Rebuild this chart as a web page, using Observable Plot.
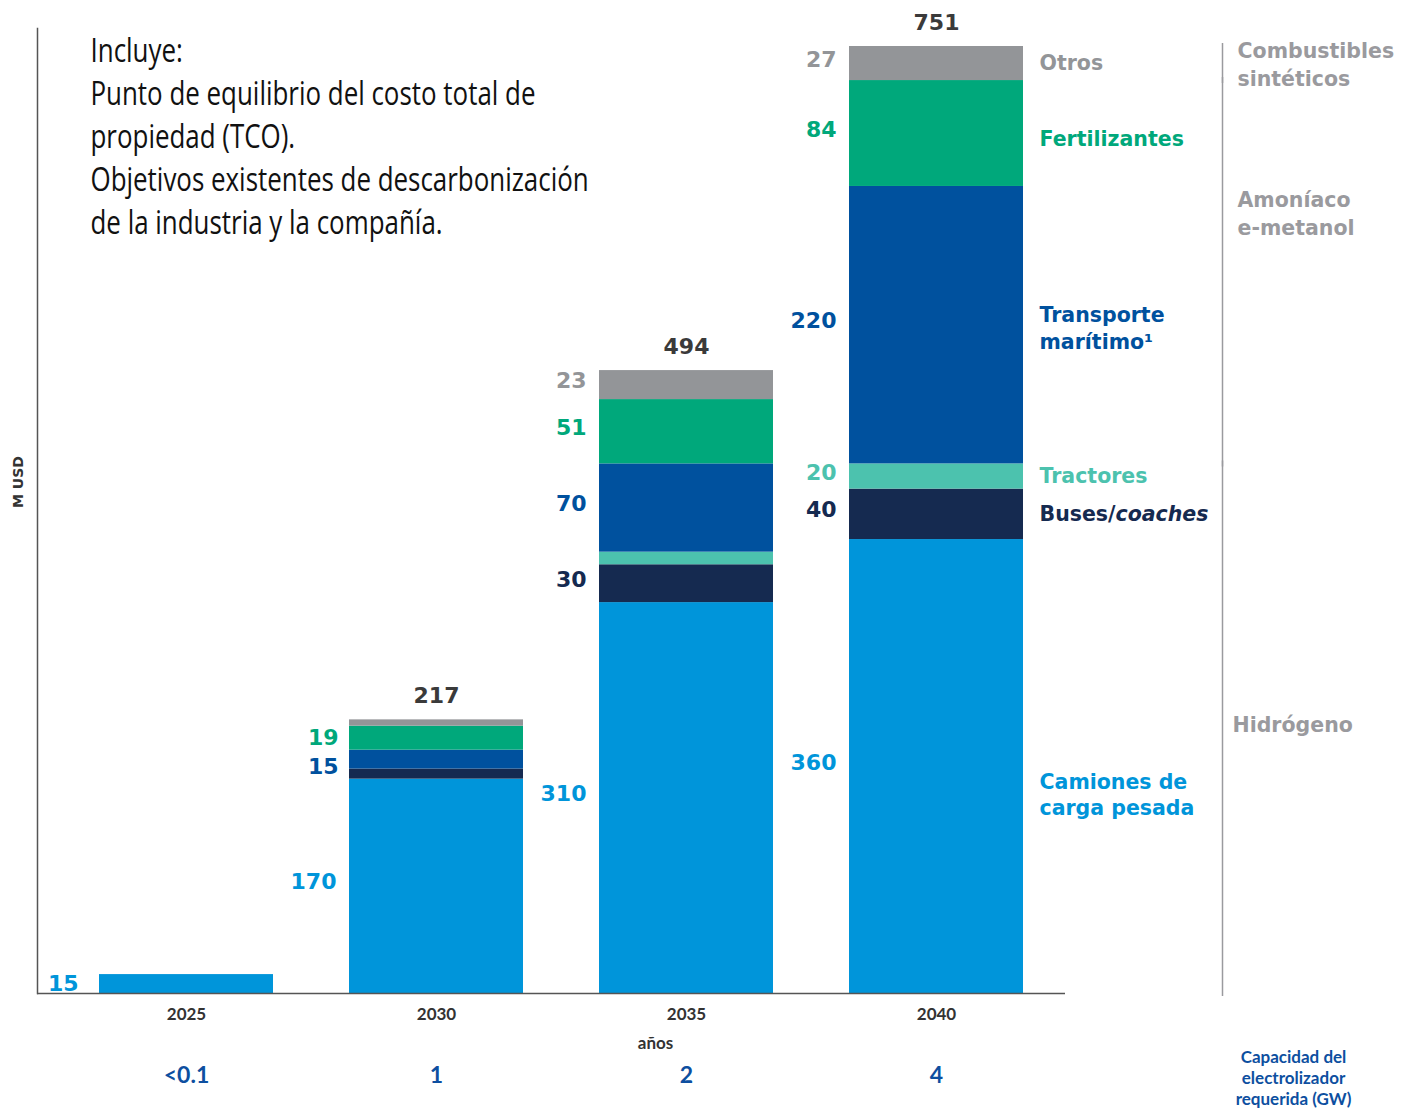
<!DOCTYPE html>
<html>
<head>
<meta charset="utf-8">
<script src="https://cdn.jsdelivr.net/npm/d3@7"></script>
<script src="https://cdn.jsdelivr.net/npm/@observablehq/plot@0.6"></script>
<style>
  html, body { margin: 0; padding: 0; background: #fff; }
  #chart svg { display: block; }
</style>
</head>
<body>
<div id="chart"></div>
<script>
// ---- data ----
const years = ["2025", "2030", "2035", "2040"];
const seriesNames = ["Camiones de carga pesada", "Buses/coaches", "Tractores", "Transporte marítimo¹", "Fertilizantes", "Otros"];
const camiones = [15, 170, 310, 360];
const buses = [0, 8, 30, 40];
const tractores = [0, 0, 10, 20];
const maritimo = [0, 15, 70, 220];
const fertilizantes = [0, 19, 51, 84];
const otros = [0, 5, 23, 27];
const totals = [15, 217, 494, 751];
const gwCapacity = ["<0.1", "1", "2", "4"];
// which segment values are labelled in the reference
const labelled = {
  "Camiones de carga pesada": [true, true, true, true],
  "Buses/coaches": [false, false, true, true],
  "Tractores": [false, false, false, true],
  "Transporte marítimo¹": [false, true, true, true],
  "Fertilizantes": [false, true, true, true],
  "Otros": [false, false, true, true]
};
const groups = ["Hidrógeno", "Amoníaco\ne-metanol", "Combustibles\nsintéticos"];
const seriesColors = ["#0095DA", "#152A50", "#4CC2AE", "#00519E", "#00A87B", "#939598"];

const seriesValues = [camiones, buses, tractores, maritimo, fertilizantes, otros];

// stacked rows
const rows = [];
years.forEach((year, i) => {
  let acc = 0;
  seriesNames.forEach((s, j) => {
    const v = seriesValues[j][i];
    rows.push({year, series: s, value: v, y1: acc, y2: acc + v, mid: acc + v / 2, show: labelled[s][i] && v > 0});
    acc += v;
  });
});
const totalRows = years.map((year, i) => ({year, total: totals[i]})).filter(d => d.year !== "2025");

// group brackets from the 2040 stack
const r40 = rows.filter(d => d.year === "2040");
const h2Top = r40[2].y2, ferTop = r40[4].y2, allTop = r40[5].y2;
const brackets = [
  {name: groups[0], y1: 0, y2: h2Top},
  {name: groups[1], y1: h2Top, y2: ferTop},
  {name: groups[2], y1: ferTop, y2: allTop}
];

const BOLD = "'DejaVu Sans', 'Open Sans', sans-serif";
const NOTE = "'Open Sans', 'Noto Sans', sans-serif";
const MYRIAD = "Lato, 'Noto Sans', sans-serif";

// label offsets (style only)
const valueTweak = {
  "2025|Camiones de carga pesada": {dx: -108, dy: 0},
  "2030|Fertilizantes": {dx: -98, dy: 0},
  "2030|Transporte marítimo¹": {dx: -98, dy: 7}
};
const key = d => d.year + "|" + d.series;
const valueStyle = {textAnchor: "end", fontSize: 22, fontWeight: 700, fontFamily: BOLD};
const valueMarks = [
  Plot.text(rows.filter(d => d.show && !valueTweak[key(d)]), {
    x: "year", y: "mid", text: d => String(d.value), fill: "series", dx: -100, dy: -4, ...valueStyle
  }),
  ...Object.keys(valueTweak).map(k => Plot.text(rows.filter(d => d.show && key(d) === k), {
    x: "year", y: "mid", text: d => String(d.value), fill: "series", dx: valueTweak[k].dx, dy: valueTweak[k].dy, ...valueStyle
  }))
];

const rightLabelDy = {"Otros": -2, "Fertilizantes": 4, "Transporte marítimo¹": 2, "Tractores": -2, "Buses/coaches": -2, "Camiones de carga pesada": 27};
const rightLabelText = {"Otros": "Otros", "Fertilizantes": "Fertilizantes", "Transporte marítimo¹": "Transporte\nmarítimo¹", "Tractores": "Tractores", "Buses/coaches": "Buses/coaches", "Camiones de carga pesada": "Camiones de\ncarga pesada"};

const note = "Incluye:\nPunto de equilibrio del costo total de\npropiedad (TCO).\nObjetivos existentes de descarbonización\nde la industria y la compañía.";

const rightLabelMarks = seriesNames.map(s => Plot.text(r40.filter(d => d.series === s), {
  x: "year", y: "mid", text: d => rightLabelText[d.series], fill: "series",
  textAnchor: "start", dx: 103, dy: rightLabelDy[s], lineHeight: 1.3,
  fontSize: 20.5, fontWeight: 700, fontFamily: BOLD
}));

const groupStyle = {textAnchor: "start", lineHeight: 1.38, fill: "#9a9a9e", fontSize: 20.5, fontWeight: 700, fontFamily: BOLD};

const chart = Plot.plot({
  width: 1428,
  height: 1109,
  marginLeft: 37,
  marginRight: 363,
  marginTop: 28,
  marginBottom: 116,
  x: {domain: years, range: [37, 1085], paddingInner: 0.3058, paddingOuter: 0.2434, axis: null},
  y: {domain: [0, 751], range: [993, 46], axis: null},
  color: {domain: seriesNames, range: seriesColors},
  style: {background: "#fff", overflow: "visible"},
  marks: [
    Plot.rectY(rows.filter(d => d.value > 0), {x: "year", y1: "y1", y2: "y2", fill: "series"}),
    Plot.frame({anchor: "left", stroke: "#555", strokeWidth: 1.5}),
    Plot.ruleY([0], {stroke: "#555", strokeWidth: 1.5}),
    ...valueMarks,
    // totals
    Plot.text(totalRows, {
      x: "year", y: "total", text: d => String(d.total), dy: -24,
      fill: "#3a3a3a", fontSize: 22, fontWeight: 700, fontFamily: BOLD
    }),
    ...rightLabelMarks,
    // group brackets
    Plot.ruleX(brackets, {x: () => "2040", y1: "y1", y2: "y2", dx: 286, stroke: "#9a9a9e", strokeWidth: 1.5, insetTop: 3, insetBottom: 3}),
    Plot.text(brackets.filter(d => d.name === groups[2]), {x: () => "2040", y: "y2", text: "name", dx: 301, dy: -9, lineAnchor: "top", ...groupStyle}),
    Plot.text(brackets.filter(d => d.name === groups[1]), {x: () => "2040", y: "y2", text: "name", dx: 301, dy: 106, lineAnchor: "top", ...groupStyle}),
    Plot.text(brackets.filter(d => d.name === groups[0]), {x: () => "2040", y: d => (d.y1 + d.y2) / 2, text: "name", dx: 296, dy: -6, ...groupStyle}),
    // x labels
    Plot.text(years, {x: d => d, y: () => 0, text: d => d, dy: 21, fill: "#333", fontSize: 17, fontWeight: 700, fontFamily: MYRIAD}),
    Plot.text(["años"], {x: () => "2035", y: () => 0, text: d => d, dy: 50, dx: -31, fill: "#333", fontSize: 17, fontWeight: 700, fontFamily: MYRIAD}),
    Plot.text(years, {x: d => d, y: () => 0, text: (d, i) => gwCapacity[i], dy: 82, fill: "#0D4FA0", fontSize: 23, fontWeight: 700, fontFamily: MYRIAD}),
    Plot.text(["Capacidad del\nelectrolizador\nrequerida (GW)"], {frameAnchor: "bottom-right", text: d => d, textAnchor: "middle", lineAnchor: "middle", dx: 228, dy: 84, lineHeight: 1.22, fill: "#0D4FA0", fontSize: 17, fontWeight: 700, fontFamily: MYRIAD}),
    // y label
    Plot.text(["M USD"], {frameAnchor: "left", text: d => d, textAnchor: "middle", lineAnchor: "middle", rotate: -90, dx: -19, dy: -29, fill: "#333", fontSize: 14, fontWeight: 700, fontFamily: BOLD}),
    // note
    Plot.text([note], {frameAnchor: "top-left", text: d => d, textAnchor: "start", lineAnchor: "top", dx: 53, dy: 3, lineHeight: 1.344, fill: "#111", fontSize: 32, fontFamily: NOTE})
  ]
});

document.getElementById("chart").appendChild(chart);

// italic "coaches"
d3.select(chart).selectAll("text").each(function () {
  const t = d3.select(this);
  if (t.text() === "Buses/coaches") {
    t.text(null);
    t.append("tspan").text("Buses/");
    t.append("tspan").attr("font-style", "italic").text("coaches");
  }
});
// condensed look for the note (horizontal squeeze about its left edge)
d3.select(chart).selectAll("text").filter(function () { return this.textContent.startsWith("Incluye"); })
  .each(function () {
    const s = 0.81;
    const bb = this.getBBox();
    const tr = this.getAttribute("transform") || "";
    this.setAttribute("transform", `${tr} translate(${bb.x},0) scale(${s},1) translate(${-bb.x},0)`);
  });
</script>
</body>
</html>
